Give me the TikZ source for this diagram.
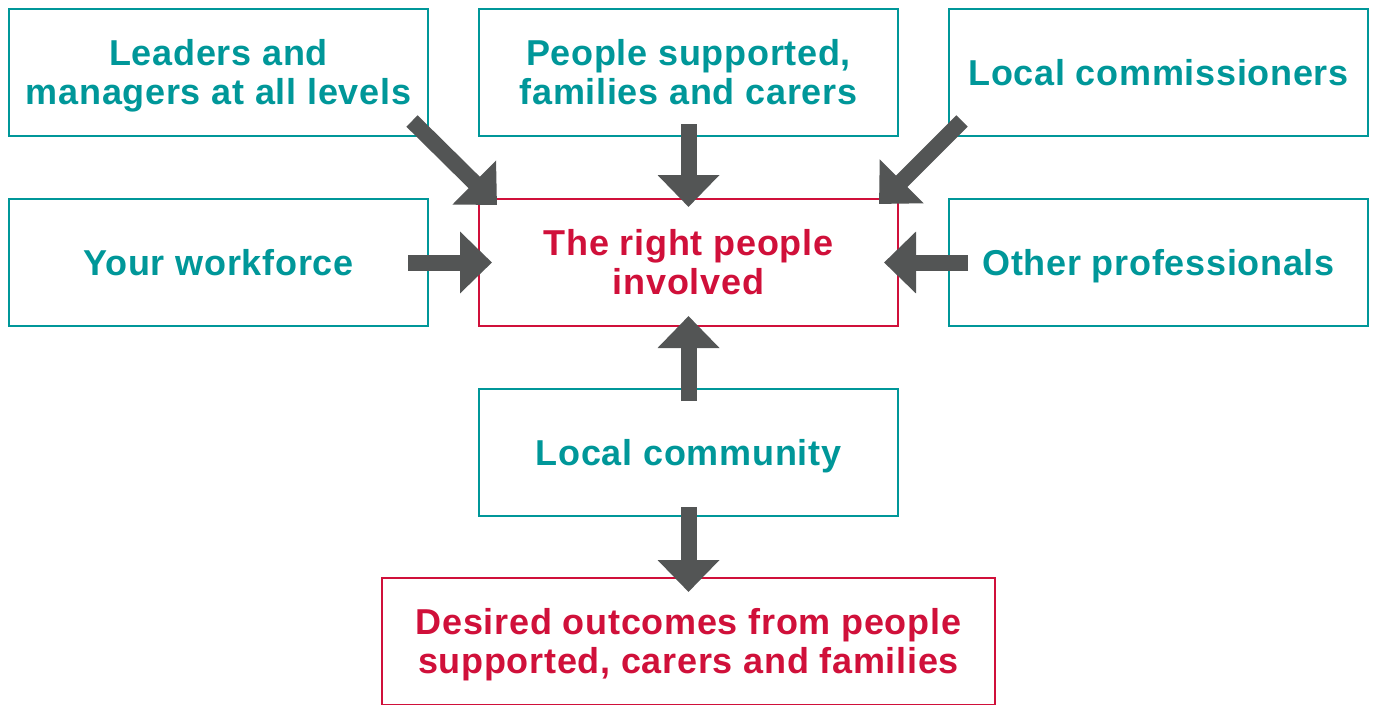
\documentclass[tikz,border=0pt]{standalone}
\usepackage{fontspec}
\setmainfont{Liberation Sans}
\usetikzlibrary{arrows.meta,calc}
\definecolor{teal}{RGB}{0,151,153}
\definecolor{crimson}{RGB}{208,16,58}
\definecolor{arrowgray}{RGB}{83,85,85}

\begin{document}
\begin{tikzpicture}[x=1pt,y=-1pt,
  box/.style={draw=teal, text=teal, line width=2pt, minimum width=419pt, minimum height=127pt,
    inner sep=0pt, align=center, text height=25.8pt, text depth=0pt,
    font=\fontsize{36}{39}\selectfont\bfseries\addfontfeature{LetterSpace=2}},
  twolines/.style={text height=64.8pt},
  goal/.style={box, draw=crimson, text=crimson},
  flow/.style={arrowgray, line width=16pt, -{Triangle[length=32pt,width=60pt]}}]
\useasboundingbox (0,0) rectangle (1375,704);
% Top row
\node[box, twolines] (lead) at (218.5,72.5) {Leaders and\\managers at all levels};
\node[box, twolines] (people) at (688.5,72.5) {People supported,\\families and carers};
\node[box] (comm) at (1158.5,72.5) {Local commissioners};
% Middle row
\node[box] (work) at (218.5,262.5) {Your workforce};
\node[goal, twolines] (right) at (688.5,262.5) {The right people\\involved};
\node[box] (other) at (1158.5,262.5) {Other professionals};
% Community and outcomes
\node[box] (local) at (688.5,452.5) {Local community};
\node[goal, twolines, minimum width=613pt] (outcome) at (688.5,641.5) {Desired outcomes from people\\supported, carers and families};
% Arrows into the centre
\draw[flow] ($(lead.south east)+(-17,-16)$) -- ($(right.north west)+(19,7)$);
\draw[flow] ($(people.south)+(0,-13)$) -- ($(right.north)+(0,9)$);
\draw[flow] ($(comm.south west)+(14,-16)$) -- ($(right.north east)+(-20,6)$);
\draw[flow] ($(work.east)+(-21,0)$) -- ($(right.west)+(14,0)$);
\draw[flow] ($(other.west)+(20,0)$) -- ($(right.east)+(-15,0)$);
\draw[flow] ($(local.north)+(0,13)$) -- ($(right.south)+(0,-11)$);
% Arrow down to outcomes
\draw[flow] ($(local.south)+(0,-10)$) -- ($(outcome.north)+(0,15)$);
\end{tikzpicture}
\end{document}
